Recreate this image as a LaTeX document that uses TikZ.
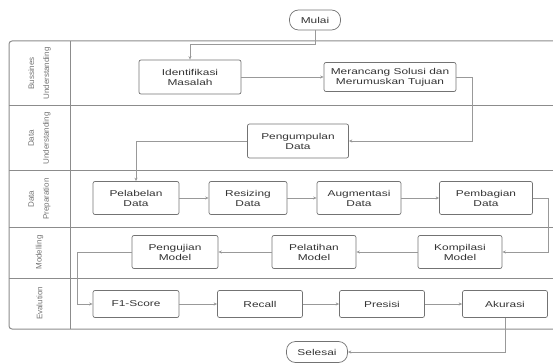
\documentclass[tikz,border=0pt]{standalone}
\usepackage{fontspec}
\setmainfont{Liberation Sans}[FakeStretch=1.4]
\newfontfamily\lanefont{Liberation Sans}
\usetikzlibrary{arrows.meta}

\begin{document}
\begin{tikzpicture}[
				x=1pt, y=-1pt,
				>={Stealth[length=3.5pt,width=3pt]},
				proc/.style={rectangle, rounded corners=2pt, draw=black!55, line width=0.7pt, minimum height=33pt, inner sep=1pt, align=center, text=black!80, font=\fontsize{8.5}{10}\selectfont},
				term/.style={rectangle, rounded corners=9pt, draw=black!55, line width=0.7pt, minimum height=20pt, inner sep=1pt, text=black!80, font=\fontsize{8.5}{10}\selectfont},
				lane/.style={rotate=90, align=center, text=black!55, font=\lanefont\fontsize{8}{15}\selectfont},
				lanerule/.style={draw=black!45, line width=1pt},
				arr/.style={->, draw=black!40, line width=0.6pt}
			]
			\useasboundingbox (0,0) rectangle (553,363);

			% Swimlanes
			\draw[lanerule, rounded corners=3pt] (553,41) -| (9,329) -- (553,329);
			\draw[lanerule] (70,41) -- (70,329);
			\draw[lanerule] (9,106) -- (553,106);
			\draw[lanerule] (9,171) -- (553,171);
			\draw[lanerule] (9,227) -- (553,227);
			\draw[lanerule] (9,278) -- (553,278);
			\node[lane] (l_bu) at (39.5,73.5) {Bussines\\Understanding};
			\node[lane] (l_du) at (39.5,138.5) {Data\\Understanding};
			\node[lane] (l_dp) at (39.5,199) {Data\\Preparation};
			\node[lane] (l_mo) at (39.5,252.5) {Modelling};
			\node[lane] (l_ev) at (39.5,303.5) {Evalution};

			% Bussines Understanding
			\node[term, minimum width=51pt] (mulai) at (315,20) {Mulai};
			\node[proc, minimum width=102pt, minimum height=34pt] (identifikasi) at (190,77) {Identifikasi\\Masalah};
			\node[proc, minimum width=132pt, minimum height=29pt] (merancang) at (390,77) {Merancang Solusi dan\\Merumuskan Tujuan};
			\draw[arr] (mulai.south) -- ++(0,14) -| (identifikasi.north);
			\draw[arr] (identifikasi.east) -- (merancang.west);

			% Data Understanding
			\node[proc, minimum width=101pt, minimum height=34pt] (pengumpulan) at (298,141) {Pengumpulan\\Data};
			\draw[arr] (merancang.east) -- ++(16,0) |- (pengumpulan.east);

			% Data Preparation
			\node[proc, minimum width=86pt] (pelabelan) at (136,198) {Pelabelan\\Data};
			\node[proc, minimum width=78pt] (resizing) at (248,198) {Resizing\\Data};
			\node[proc, minimum width=84pt] (augmentasi) at (359,198) {Augmentasi\\Data};
			\node[proc, minimum width=93pt] (pembagian) at (486,198) {Pembagian\\Data};
			\draw[arr] (pengumpulan.west) -| (pelabelan.north);
			\draw[arr] (pelabelan.east) -- (resizing.west);
			\draw[arr] (resizing.east) -- (augmentasi.west);
			\draw[arr] (augmentasi.east) -- (pembagian.west);

			% Modelling
			\node[proc, minimum width=84pt] (kompilasi) at (460,252) {Kompilasi\\Model};
			\node[proc, minimum width=84pt] (pelatihan) at (314,252) {Pelatihan\\Model};
			\node[proc, minimum width=86pt] (pengujian) at (175,252) {Pengujian\\Model};
			\draw[arr] (pembagian.east) -- ++(15,0) |- (kompilasi.east);
			\draw[arr] (kompilasi.west) -- (pelatihan.east);
			\draw[arr] (pelatihan.west) -- (pengujian.east);

			% Evalution
			\node[proc, minimum width=86pt, minimum height=27pt] (f1) at (136,304) {F1-Score};
			\node[proc, minimum width=85pt, minimum height=27pt] (recall) at (260,304) {Recall};
			\node[proc, minimum width=85pt, minimum height=27pt] (presisi) at (382,304) {Presisi};
			\node[proc, minimum width=85pt, minimum height=27pt] (akurasi) at (505,304) {Akurasi};
			\draw[arr] (pengujian.west) -- ++(-54,0) |- (f1.west);
			\draw[arr] (f1.east) -- (recall.west);
			\draw[arr] (recall.east) -- (presisi.west);
			\draw[arr] (presisi.east) -- (akurasi.west);

			\node[term, minimum width=61pt, minimum height=21pt] (selesai) at (317,352) {Selesai};
			\draw[arr] (akurasi.south) |- (selesai.east);

		\end{tikzpicture}
\end{document}
